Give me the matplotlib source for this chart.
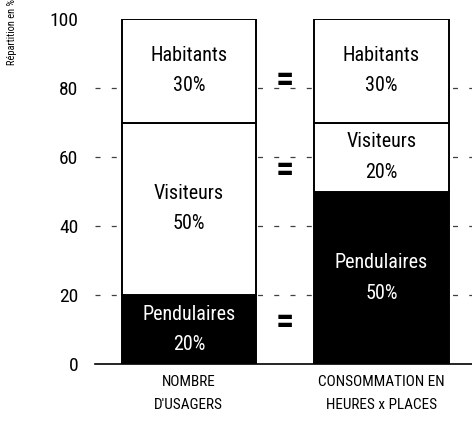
import matplotlib.pyplot as plt
from matplotlib import font_manager

# share of each user group, bottom to top
categories = ["NOMBRE\nD'USAGERS", "CONSOMMATION EN\nHEURES x PLACES"]
groups = ['Pendulaires', 'Visiteurs', 'Habitants']
shares = {
    'Pendulaires': [20, 50],
    'Visiteurs': [50, 20],
    'Habitants': [30, 30],
}
colors = {'Pendulaires': 'black', 'Visiteurs': 'white', 'Habitants': 'white'}
equal_marks = [82, 56, 12]
yticks = [0, 20, 40, 60, 80, 100]

names = {f.name for f in font_manager.fontManager.ttflist}
family = 'Roboto'
for cand in ['Liberation Sans Narrow', 'DejaVu Sans Condensed', 'Roboto Condensed']:
    if cand in names:
        family = cand
        break
plt.rcParams['font.family'] = family

fig = plt.figure(figsize=(4.72, 4.33), dpi=100)
ax = fig.add_axes([0.201, 0.159, 0.799, 0.797])

x = range(len(categories))
width = 0.696
bottom = [0, 0]
for g in groups:
    vals = shares[g]
    ax.bar(x, vals, width, bottom=bottom, color=colors[g], edgecolor='black',
           linewidth=1.4, zorder=2)
    txt = 'white' if colors[g] == 'black' else 'black'
    for i, v in enumerate(vals):
        ax.text(i, bottom[i] + v / 2, '%s\n%d%%' % (g, v), ha='center', va='center',
                color=txt, fontsize=14.5, linespacing=1.75, zorder=3)
    bottom = [b + v for b, v in zip(bottom, vals)]

for y in equal_marks:
    ax.text(0.5, y, '=', ha='center', va='center', fontsize=26, fontweight='bold')

for y in yticks[1:-1]:
    ax.axhline(y, color='0.25', linewidth=0.9, linestyle=(0, (4, 9)), zorder=1)

ax.set_xlim(-0.488, 1.47)
ax.set_ylim(0, 100)
ax.set_yticks(yticks)
ax.set_xticks(list(x))
ax.set_xticklabels(categories, fontsize=11, linespacing=1.8)
ax.tick_params(axis='y', length=0, pad=12, labelsize=14)
ax.tick_params(axis='x', length=0, pad=8)
for s in ['left', 'top', 'right']:
    ax.spines[s].set_visible(False)
ax.spines['bottom'].set_linewidth(1.2)

fig.text(0.025, 0.85, 'Répartition en %', rotation=90, ha='center', va='bottom',
         fontsize=7.5)

fig.savefig('out.png', dpi=100)
